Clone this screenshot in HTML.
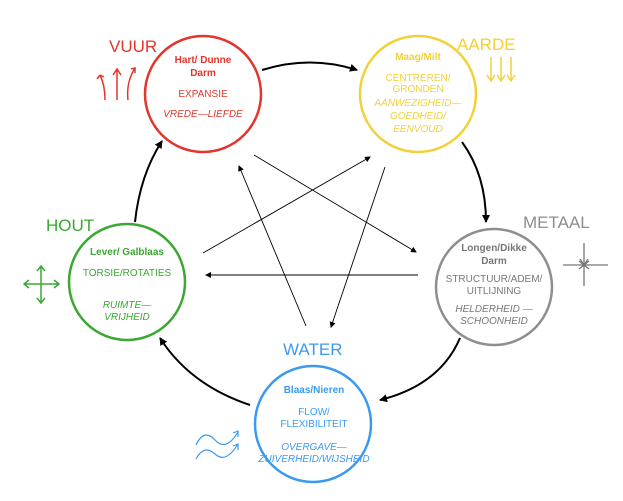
<!DOCTYPE html>
<html><head><meta charset="utf-8"><style>
html,body{margin:0;padding:0;background:#fff}
svg{display:block}
text{font-family:"Liberation Sans",sans-serif}
</style></head><body>
<svg width="623" height="501" viewBox="0 0 623 501" xmlns="http://www.w3.org/2000/svg">
<defs>
<marker id="ab" markerWidth="8" markerHeight="8" refX="7" refY="4" orient="auto" markerUnits="userSpaceOnUse"><path d="M0,0 L8,4 L0,8 z" fill="#000"/></marker>
<marker id="at" markerWidth="6" markerHeight="6" refX="5" refY="3" orient="auto" markerUnits="userSpaceOnUse"><path d="M0,0 L6,3 L0,6 z" fill="#000"/></marker>
</defs>
<!-- circles -->
<circle cx="203" cy="94" r="58" fill="none" stroke="#e2352b" stroke-width="2.5"/>
<circle cx="418" cy="94" r="58" fill="none" stroke="#f2d13a" stroke-width="2.5"/>
<circle cx="127" cy="282" r="58" fill="none" stroke="#3aa832" stroke-width="2.5"/>
<circle cx="494" cy="287" r="58" fill="none" stroke="#8e8e8e" stroke-width="2.5"/>
<circle cx="313" cy="424" r="58" fill="none" stroke="#3b9af0" stroke-width="2.5"/>
<!-- cycle arrows -->
<g fill="none" stroke="#000" stroke-width="2">
<path d="M262,70 Q310,55 357,70" marker-end="url(#ab)"/>
<path d="M462,142 Q486,175 486,222" marker-end="url(#ab)"/>
<path d="M460,338 Q440,385 380,400" marker-end="url(#ab)"/>
<path d="M250,405 Q190,385 160,338" marker-end="url(#ab)"/>
<path d="M135,222 Q140,175 162,141" marker-end="url(#ab)"/>
</g>
<!-- star lines -->
<g fill="none" stroke="#000" stroke-width="0.9">
<line x1="254" y1="155" x2="416" y2="252" marker-end="url(#at)"/>
<line x1="203" y1="253" x2="370" y2="157" marker-end="url(#at)"/>
<line x1="306" y1="326" x2="239" y2="166" marker-end="url(#at)"/>
<line x1="385" y1="167" x2="331" y2="327" marker-end="url(#at)"/>
<line x1="418" y1="275" x2="206" y2="275" marker-end="url(#at)"/>
</g>
<!-- element labels -->
<text x="109" y="52" font-size="17" fill="#e2352b">VUUR</text>
<text x="457" y="50" font-size="17" fill="#f2d13a">AARDE</text>
<text x="46" y="231" font-size="17" fill="#3aa832">HOUT</text>
<text x="523" y="228" font-size="17" fill="#8e8e8e">METAAL</text>
<text x="283" y="355" font-size="17" fill="#3b9af0">WATER</text>
<!-- red text -->
<g fill="#e2352b" font-size="10" text-anchor="middle">
<text x="203" y="63" font-weight="bold">Hart/ Dunne</text>
<text x="203" y="76" font-weight="bold">Darm</text>
<text x="203" y="97">EXPANSIE</text>
<text x="203" y="117" font-style="italic">VREDE—LIEFDE</text>
</g>
<g fill="#f2d13a" font-size="10" text-anchor="middle">
<text x="418" y="60" font-weight="bold">Maag/Milt</text>
<text x="418" y="81">CENTREREN/</text>
<text x="418" y="92">GRONDEN</text>
<text x="418" y="106" font-style="italic">AANWEZIGHEID—</text>
<text x="418" y="119" font-style="italic">GOEDHEID/</text>
<text x="418" y="132" font-style="italic">EENVOUD</text>
</g>
<g fill="#3aa832" font-size="10" text-anchor="middle">
<text x="127" y="255" font-weight="bold">Lever/ Galblaas</text>
<text x="127" y="276">TORSIE/ROTATIES</text>
<text x="127" y="308" font-style="italic">RUIMTE—</text>
<text x="127" y="320" font-style="italic">VRIJHEID</text>
</g>
<g fill="#777" font-size="10" text-anchor="middle">
<text x="494" y="251" font-weight="bold">Longen/Dikke</text>
<text x="494" y="264" font-weight="bold">Darm</text>
<text x="494" y="282">STRUCTUUR/ADEM/</text>
<text x="494" y="294">UITLIJNING</text>
<text x="494" y="312" font-style="italic">HELDERHEID —</text>
<text x="494" y="324" font-style="italic">SCHOONHEID</text>
</g>
<g fill="#3b9af0" font-size="10" text-anchor="middle">
<text x="314" y="393" font-weight="bold">Blaas/Nieren</text>
<text x="314" y="415">FLOW/</text>
<text x="314" y="427">FLEXIBILITEIT</text>
<text x="314" y="450" font-style="italic">OVERGAVE—</text>
<text x="314" y="462" font-style="italic">ZUIVERHEID/WIJSHEID</text>
</g>
<!-- icons -->
<g fill="none" stroke="#e2352b" stroke-width="1.5">
<path d="M105,100 Q105,85 100,75 M100,75 l-3,4 M100,75 l4,2"/>
<path d="M117,100 L117,70 M113,75 L117,69 L121,75"/>
<path d="M128,100 Q126,82 135,68 M131,69 L135,68 L135,73"/>
</g>
<g fill="none" stroke="#f2d13a" stroke-width="1.5">
<path d="M491,57 V81 M487,75 L491,81 L495,75"/>
<path d="M501,57 V81 M497,75 L501,81 L505,75"/>
<path d="M511,57 V81 M507,75 L511,81 L515,75"/>
</g>
<g fill="none" stroke="#3aa832" stroke-width="1.5">
<path d="M41,267 V302 M37,271 L41,266 L45,271 M37,298 L41,303 L45,298"/>
<path d="M25,284 H58 M29,280 L24,284 L29,288 M54,280 L59,284 L54,288"/>
</g>
<g fill="none" stroke="#777" stroke-width="1.3">
<path d="M584,243 V286 M563,265 H608"/>
<path d="M579,261 L584,265 L579,269 M589,261 L584,265 L589,269 M580,259 L584,265 L588,259"/>
</g>
<g fill="none" stroke="#3b9af0" stroke-width="1.2">
<path d="M196,445 Q204,428 215,440 Q226,452 238,432 M233,433 L238,431 L238,437"/>
<path d="M196,459 Q204,444 215,454 Q226,464 238,444 M233,446 L238,444 L238,450"/>
</g>
</svg>
</body></html>
